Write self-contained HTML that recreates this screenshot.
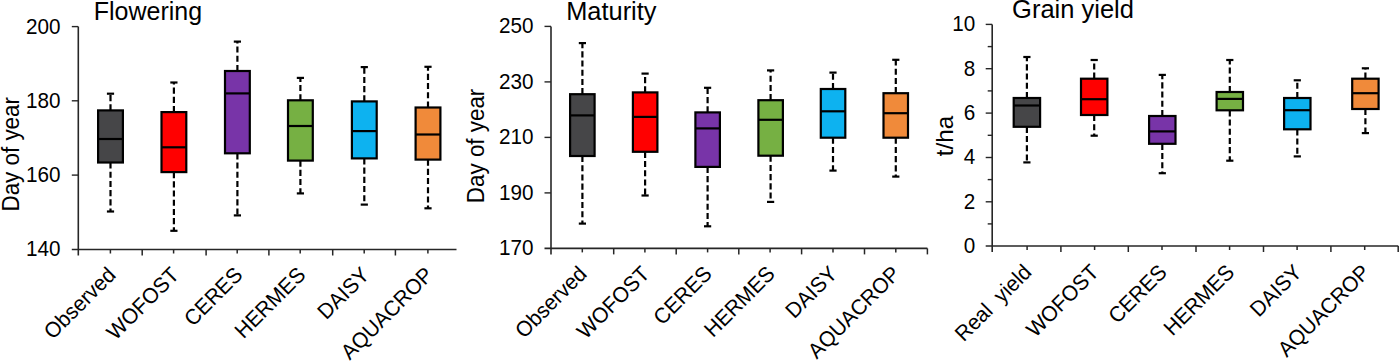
<!DOCTYPE html><html><head><meta charset="utf-8"><style>html,body{margin:0;padding:0;background:#fff;}svg{display:block;}text{font-family:"Liberation Sans", sans-serif;}</style></head><body>
<svg width="1400" height="361" viewBox="0 0 1400 361">
<rect width="1400" height="361" fill="#fff"/>
<text transform="translate(93.7,20.0) scale(1,1.02)" font-size="25.0" fill="#000">Flowering</text>
<text transform="translate(60.4,33.5) scale(1,1.035)" font-size="20.7" text-anchor="end" fill="#000">200</text>
<text transform="translate(60.4,107.7) scale(1,1.035)" font-size="20.7" text-anchor="end" fill="#000">180</text>
<text transform="translate(60.4,182.0) scale(1,1.035)" font-size="20.7" text-anchor="end" fill="#000">160</text>
<text transform="translate(60.4,256.4) scale(1,1.035)" font-size="20.7" text-anchor="end" fill="#000">140</text>
<text transform="translate(18.7,154.3) rotate(-90) scale(1,1.035)" x="0" y="0" font-size="22.4" text-anchor="middle" fill="#000">Day of year</text>
<line x1="78.3" y1="26.6" x2="78.3" y2="255.5" stroke="#262626" stroke-width="1.6"/>
<line x1="71.8" y1="249.5" x2="456.5" y2="249.5" stroke="#262626" stroke-width="1.6"/>
<line x1="71.8" y1="26.6" x2="78.3" y2="26.6" stroke="#262626" stroke-width="1.4"/>
<line x1="71.8" y1="100.8" x2="78.3" y2="100.8" stroke="#262626" stroke-width="1.4"/>
<line x1="71.8" y1="175.1" x2="78.3" y2="175.1" stroke="#262626" stroke-width="1.4"/>
<line x1="142.2" y1="249.5" x2="142.2" y2="255.5" stroke="#262626" stroke-width="1.5"/>
<line x1="206.1" y1="249.5" x2="206.1" y2="255.5" stroke="#262626" stroke-width="1.5"/>
<line x1="268.9" y1="249.5" x2="268.9" y2="255.5" stroke="#262626" stroke-width="1.5"/>
<line x1="332.7" y1="249.5" x2="332.7" y2="255.5" stroke="#262626" stroke-width="1.5"/>
<line x1="395.4" y1="249.5" x2="395.4" y2="255.5" stroke="#262626" stroke-width="1.5"/>
<line x1="110.4" y1="249.5" x2="110.4" y2="253.5" stroke="#262626" stroke-width="1.5"/>
<line x1="173.6" y1="249.5" x2="173.6" y2="253.5" stroke="#262626" stroke-width="1.5"/>
<line x1="237.2" y1="249.5" x2="237.2" y2="253.5" stroke="#262626" stroke-width="1.5"/>
<line x1="300.2" y1="249.5" x2="300.2" y2="253.5" stroke="#262626" stroke-width="1.5"/>
<line x1="364.2" y1="249.5" x2="364.2" y2="253.5" stroke="#262626" stroke-width="1.5"/>
<line x1="427.9" y1="249.5" x2="427.9" y2="253.5" stroke="#262626" stroke-width="1.5"/>
<line x1="110.5" y1="110.4" x2="110.5" y2="93.7" stroke="#000" stroke-width="2.2" stroke-dasharray="6.1,3.1"/>
<line x1="110.5" y1="162.5" x2="110.5" y2="211.5" stroke="#000" stroke-width="2.2" stroke-dasharray="6.1,3.1"/>
<line x1="106.9" y1="93.7" x2="114.1" y2="93.7" stroke="#000" stroke-width="2.2"/>
<line x1="106.9" y1="211.5" x2="114.1" y2="211.5" stroke="#000" stroke-width="2.2"/>
<rect x="98.1" y="110.4" width="24.8" height="52.1" fill="#464648" stroke="#000" stroke-width="2.2"/>
<line x1="98.1" y1="139.0" x2="122.9" y2="139.0" stroke="#000" stroke-width="2.2"/>
<text transform="translate(111.5,270.9) rotate(-45) scale(1,1.035)" x="0" y="0" font-size="20.9" text-anchor="end" fill="#000" dy="0.35em">Observed</text>
<line x1="173.9" y1="112.1" x2="173.9" y2="82.5" stroke="#000" stroke-width="2.2" stroke-dasharray="6.1,3.1"/>
<line x1="173.9" y1="172.1" x2="173.9" y2="230.8" stroke="#000" stroke-width="2.2" stroke-dasharray="6.1,3.1"/>
<line x1="170.3" y1="82.5" x2="177.5" y2="82.5" stroke="#000" stroke-width="2.2"/>
<line x1="170.3" y1="230.8" x2="177.5" y2="230.8" stroke="#000" stroke-width="2.2"/>
<rect x="161.5" y="112.1" width="24.8" height="60.0" fill="#ff0000" stroke="#000" stroke-width="2.2"/>
<line x1="161.5" y1="147.3" x2="186.3" y2="147.3" stroke="#000" stroke-width="2.2"/>
<text transform="translate(174.9,270.9) rotate(-45) scale(1,1.035)" x="0" y="0" font-size="20.9" text-anchor="end" fill="#000" dy="0.35em">WOFOST</text>
<line x1="237.4" y1="71.0" x2="237.4" y2="41.6" stroke="#000" stroke-width="2.2" stroke-dasharray="6.1,3.1"/>
<line x1="237.4" y1="153.3" x2="237.4" y2="215.4" stroke="#000" stroke-width="2.2" stroke-dasharray="6.1,3.1"/>
<line x1="233.8" y1="41.6" x2="241.0" y2="41.6" stroke="#000" stroke-width="2.2"/>
<line x1="233.8" y1="215.4" x2="241.0" y2="215.4" stroke="#000" stroke-width="2.2"/>
<rect x="225.0" y="71.0" width="24.8" height="82.3" fill="#7834a8" stroke="#000" stroke-width="2.2"/>
<line x1="225.0" y1="93.4" x2="249.8" y2="93.4" stroke="#000" stroke-width="2.2"/>
<text transform="translate(238.4,270.9) rotate(-45) scale(1,1.035)" x="0" y="0" font-size="20.9" text-anchor="end" fill="#000" dy="0.35em">CERES</text>
<line x1="300.4" y1="100.3" x2="300.4" y2="77.9" stroke="#000" stroke-width="2.2" stroke-dasharray="6.1,3.1"/>
<line x1="300.4" y1="160.6" x2="300.4" y2="193.4" stroke="#000" stroke-width="2.2" stroke-dasharray="6.1,3.1"/>
<line x1="296.8" y1="77.9" x2="304.0" y2="77.9" stroke="#000" stroke-width="2.2"/>
<line x1="296.8" y1="193.4" x2="304.0" y2="193.4" stroke="#000" stroke-width="2.2"/>
<rect x="288.0" y="100.3" width="24.8" height="60.3" fill="#76b043" stroke="#000" stroke-width="2.2"/>
<line x1="288.0" y1="126.0" x2="312.8" y2="126.0" stroke="#000" stroke-width="2.2"/>
<text transform="translate(301.4,270.9) rotate(-45) scale(1,1.035)" x="0" y="0" font-size="20.9" text-anchor="end" fill="#000" dy="0.35em">HERMES</text>
<line x1="364.3" y1="101.4" x2="364.3" y2="67.1" stroke="#000" stroke-width="2.2" stroke-dasharray="6.1,3.1"/>
<line x1="364.3" y1="158.4" x2="364.3" y2="204.6" stroke="#000" stroke-width="2.2" stroke-dasharray="6.1,3.1"/>
<line x1="360.7" y1="67.1" x2="367.9" y2="67.1" stroke="#000" stroke-width="2.2"/>
<line x1="360.7" y1="204.6" x2="367.9" y2="204.6" stroke="#000" stroke-width="2.2"/>
<rect x="351.9" y="101.4" width="24.8" height="57.0" fill="#0db2f0" stroke="#000" stroke-width="2.2"/>
<line x1="351.9" y1="131.1" x2="376.7" y2="131.1" stroke="#000" stroke-width="2.2"/>
<text transform="translate(365.3,270.9) rotate(-45) scale(1,1.035)" x="0" y="0" font-size="20.9" text-anchor="end" fill="#000" dy="0.35em">DAISY</text>
<line x1="428.0" y1="107.5" x2="428.0" y2="66.8" stroke="#000" stroke-width="2.2" stroke-dasharray="6.1,3.1"/>
<line x1="428.0" y1="159.6" x2="428.0" y2="208.3" stroke="#000" stroke-width="2.2" stroke-dasharray="6.1,3.1"/>
<line x1="424.4" y1="66.8" x2="431.6" y2="66.8" stroke="#000" stroke-width="2.2"/>
<line x1="424.4" y1="208.3" x2="431.6" y2="208.3" stroke="#000" stroke-width="2.2"/>
<rect x="415.6" y="107.5" width="24.8" height="52.1" fill="#f08a3a" stroke="#000" stroke-width="2.2"/>
<line x1="415.6" y1="134.5" x2="440.4" y2="134.5" stroke="#000" stroke-width="2.2"/>
<text transform="translate(429.0,270.9) rotate(-45) scale(1,1.035)" x="0" y="0" font-size="20.9" text-anchor="end" fill="#000" dy="0.35em">AQUACROP</text>
<text transform="translate(566.2,19.9) scale(1,1.02)" font-size="25.4" fill="#000">Maturity</text>
<text transform="translate(533.4,33.3) scale(1,1.035)" font-size="20.7" text-anchor="end" fill="#000">250</text>
<text transform="translate(533.4,88.8) scale(1,1.035)" font-size="20.7" text-anchor="end" fill="#000">230</text>
<text transform="translate(533.4,144.3) scale(1,1.035)" font-size="20.7" text-anchor="end" fill="#000">210</text>
<text transform="translate(533.4,199.8) scale(1,1.035)" font-size="20.7" text-anchor="end" fill="#000">190</text>
<text transform="translate(533.4,255.3) scale(1,1.035)" font-size="20.7" text-anchor="end" fill="#000">170</text>
<text transform="translate(484.2,145.9) rotate(-90) scale(1,1.035)" x="0" y="0" font-size="22.4" text-anchor="middle" fill="#000">Day of year</text>
<line x1="551.0" y1="26.4" x2="551.0" y2="254.4" stroke="#262626" stroke-width="1.6"/>
<line x1="544.5" y1="248.4" x2="927.4" y2="248.4" stroke="#262626" stroke-width="1.6"/>
<line x1="544.5" y1="26.4" x2="551.0" y2="26.4" stroke="#262626" stroke-width="1.4"/>
<line x1="544.5" y1="81.9" x2="551.0" y2="81.9" stroke="#262626" stroke-width="1.4"/>
<line x1="544.5" y1="137.4" x2="551.0" y2="137.4" stroke="#262626" stroke-width="1.4"/>
<line x1="544.5" y1="192.9" x2="551.0" y2="192.9" stroke="#262626" stroke-width="1.4"/>
<line x1="613.7" y1="248.4" x2="613.7" y2="254.4" stroke="#262626" stroke-width="1.5"/>
<line x1="676.2" y1="248.4" x2="676.2" y2="254.4" stroke="#262626" stroke-width="1.5"/>
<line x1="738.8" y1="248.4" x2="738.8" y2="254.4" stroke="#262626" stroke-width="1.5"/>
<line x1="801.6" y1="248.4" x2="801.6" y2="254.4" stroke="#262626" stroke-width="1.5"/>
<line x1="864.5" y1="248.4" x2="864.5" y2="254.4" stroke="#262626" stroke-width="1.5"/>
<line x1="927.4" y1="248.4" x2="927.4" y2="254.4" stroke="#262626" stroke-width="1.5"/>
<line x1="582.3" y1="248.4" x2="582.3" y2="252.4" stroke="#262626" stroke-width="1.5"/>
<line x1="644.9" y1="248.4" x2="644.9" y2="252.4" stroke="#262626" stroke-width="1.5"/>
<line x1="707.6" y1="248.4" x2="707.6" y2="252.4" stroke="#262626" stroke-width="1.5"/>
<line x1="770.1" y1="248.4" x2="770.1" y2="252.4" stroke="#262626" stroke-width="1.5"/>
<line x1="833.0" y1="248.4" x2="833.0" y2="252.4" stroke="#262626" stroke-width="1.5"/>
<line x1="895.8" y1="248.4" x2="895.8" y2="252.4" stroke="#262626" stroke-width="1.5"/>
<line x1="582.4" y1="94.2" x2="582.4" y2="43.1" stroke="#000" stroke-width="2.2" stroke-dasharray="6.1,3.1"/>
<line x1="582.4" y1="156.0" x2="582.4" y2="223.6" stroke="#000" stroke-width="2.2" stroke-dasharray="6.1,3.1"/>
<line x1="578.8" y1="43.1" x2="586.0" y2="43.1" stroke="#000" stroke-width="2.2"/>
<line x1="578.8" y1="223.6" x2="586.0" y2="223.6" stroke="#000" stroke-width="2.2"/>
<rect x="570.1" y="94.2" width="24.5" height="61.8" fill="#464648" stroke="#000" stroke-width="2.2"/>
<line x1="570.1" y1="115.4" x2="594.6" y2="115.4" stroke="#000" stroke-width="2.2"/>
<text transform="translate(582.6,269.8) rotate(-45) scale(1,1.035)" x="0" y="0" font-size="20.9" text-anchor="end" fill="#000" dy="0.35em">Observed</text>
<line x1="645.1" y1="92.4" x2="645.1" y2="73.6" stroke="#000" stroke-width="2.2" stroke-dasharray="6.1,3.1"/>
<line x1="645.1" y1="151.8" x2="645.1" y2="195.5" stroke="#000" stroke-width="2.2" stroke-dasharray="6.1,3.1"/>
<line x1="641.5" y1="73.6" x2="648.7" y2="73.6" stroke="#000" stroke-width="2.2"/>
<line x1="641.5" y1="195.5" x2="648.7" y2="195.5" stroke="#000" stroke-width="2.2"/>
<rect x="632.9" y="92.4" width="24.5" height="59.4" fill="#ff0000" stroke="#000" stroke-width="2.2"/>
<line x1="632.9" y1="116.9" x2="657.4" y2="116.9" stroke="#000" stroke-width="2.2"/>
<text transform="translate(645.3,269.8) rotate(-45) scale(1,1.035)" x="0" y="0" font-size="20.9" text-anchor="end" fill="#000" dy="0.35em">WOFOST</text>
<line x1="707.6" y1="112.4" x2="707.6" y2="87.8" stroke="#000" stroke-width="2.2" stroke-dasharray="6.1,3.1"/>
<line x1="707.6" y1="166.9" x2="707.6" y2="226.3" stroke="#000" stroke-width="2.2" stroke-dasharray="6.1,3.1"/>
<line x1="704.0" y1="87.8" x2="711.2" y2="87.8" stroke="#000" stroke-width="2.2"/>
<line x1="704.0" y1="226.3" x2="711.2" y2="226.3" stroke="#000" stroke-width="2.2"/>
<rect x="695.4" y="112.4" width="24.5" height="54.5" fill="#7834a8" stroke="#000" stroke-width="2.2"/>
<line x1="695.4" y1="128.4" x2="719.9" y2="128.4" stroke="#000" stroke-width="2.2"/>
<text transform="translate(707.8,269.8) rotate(-45) scale(1,1.035)" x="0" y="0" font-size="20.9" text-anchor="end" fill="#000" dy="0.35em">CERES</text>
<line x1="770.6" y1="100.2" x2="770.6" y2="70.4" stroke="#000" stroke-width="2.2" stroke-dasharray="6.1,3.1"/>
<line x1="770.6" y1="155.7" x2="770.6" y2="201.9" stroke="#000" stroke-width="2.2" stroke-dasharray="6.1,3.1"/>
<line x1="767.0" y1="70.4" x2="774.2" y2="70.4" stroke="#000" stroke-width="2.2"/>
<line x1="767.0" y1="201.9" x2="774.2" y2="201.9" stroke="#000" stroke-width="2.2"/>
<rect x="758.4" y="100.2" width="24.5" height="55.5" fill="#76b043" stroke="#000" stroke-width="2.2"/>
<line x1="758.4" y1="119.8" x2="782.9" y2="119.8" stroke="#000" stroke-width="2.2"/>
<text transform="translate(770.8,269.8) rotate(-45) scale(1,1.035)" x="0" y="0" font-size="20.9" text-anchor="end" fill="#000" dy="0.35em">HERMES</text>
<line x1="833.0" y1="89.0" x2="833.0" y2="72.6" stroke="#000" stroke-width="2.2" stroke-dasharray="6.1,3.1"/>
<line x1="833.0" y1="137.7" x2="833.0" y2="170.6" stroke="#000" stroke-width="2.2" stroke-dasharray="6.1,3.1"/>
<line x1="829.4" y1="72.6" x2="836.6" y2="72.6" stroke="#000" stroke-width="2.2"/>
<line x1="829.4" y1="170.6" x2="836.6" y2="170.6" stroke="#000" stroke-width="2.2"/>
<rect x="820.8" y="89.0" width="24.5" height="48.7" fill="#0db2f0" stroke="#000" stroke-width="2.2"/>
<line x1="820.8" y1="111.3" x2="845.2" y2="111.3" stroke="#000" stroke-width="2.2"/>
<text transform="translate(833.2,269.8) rotate(-45) scale(1,1.035)" x="0" y="0" font-size="20.9" text-anchor="end" fill="#000" dy="0.35em">DAISY</text>
<line x1="895.8" y1="93.2" x2="895.8" y2="59.8" stroke="#000" stroke-width="2.2" stroke-dasharray="6.1,3.1"/>
<line x1="895.8" y1="137.7" x2="895.8" y2="176.6" stroke="#000" stroke-width="2.2" stroke-dasharray="6.1,3.1"/>
<line x1="892.2" y1="59.8" x2="899.4" y2="59.8" stroke="#000" stroke-width="2.2"/>
<line x1="892.2" y1="176.6" x2="899.4" y2="176.6" stroke="#000" stroke-width="2.2"/>
<rect x="883.5" y="93.2" width="24.5" height="44.5" fill="#f08a3a" stroke="#000" stroke-width="2.2"/>
<line x1="883.5" y1="113.2" x2="908.0" y2="113.2" stroke="#000" stroke-width="2.2"/>
<text transform="translate(896.0,269.8) rotate(-45) scale(1,1.035)" x="0" y="0" font-size="20.9" text-anchor="end" fill="#000" dy="0.35em">AQUACROP</text>
<text transform="translate(1012.1,18.2) scale(1,1.02)" font-size="25.5" fill="#000">Grain yield</text>
<text transform="translate(975.2,31.3) scale(1,1.035)" font-size="20.7" text-anchor="end" fill="#000">10</text>
<text transform="translate(975.2,75.6) scale(1,1.035)" font-size="20.7" text-anchor="end" fill="#000">8</text>
<text transform="translate(975.2,120.0) scale(1,1.035)" font-size="20.7" text-anchor="end" fill="#000">6</text>
<text transform="translate(975.2,164.4) scale(1,1.035)" font-size="20.7" text-anchor="end" fill="#000">4</text>
<text transform="translate(975.2,208.7) scale(1,1.035)" font-size="20.7" text-anchor="end" fill="#000">2</text>
<text transform="translate(975.2,252.9) scale(1,1.035)" font-size="20.7" text-anchor="end" fill="#000">0</text>
<text transform="translate(952.6,136.1) rotate(-90) scale(1.085,1.035)" x="0" y="0" font-size="22.4" text-anchor="middle" fill="#000">t/ha</text>
<line x1="992.2" y1="24.4" x2="992.2" y2="252.0" stroke="#262626" stroke-width="1.6"/>
<line x1="985.7" y1="246.0" x2="1398.3" y2="246.0" stroke="#262626" stroke-width="1.6"/>
<line x1="985.7" y1="24.4" x2="992.2" y2="24.4" stroke="#262626" stroke-width="1.4"/>
<line x1="985.7" y1="68.7" x2="992.2" y2="68.7" stroke="#262626" stroke-width="1.4"/>
<line x1="985.7" y1="113.1" x2="992.2" y2="113.1" stroke="#262626" stroke-width="1.4"/>
<line x1="985.7" y1="157.5" x2="992.2" y2="157.5" stroke="#262626" stroke-width="1.4"/>
<line x1="985.7" y1="201.8" x2="992.2" y2="201.8" stroke="#262626" stroke-width="1.4"/>
<line x1="987.7" y1="46.6" x2="992.2" y2="46.6" stroke="#262626" stroke-width="1.4"/>
<line x1="987.7" y1="90.9" x2="992.2" y2="90.9" stroke="#262626" stroke-width="1.4"/>
<line x1="987.7" y1="135.3" x2="992.2" y2="135.3" stroke="#262626" stroke-width="1.4"/>
<line x1="987.7" y1="179.6" x2="992.2" y2="179.6" stroke="#262626" stroke-width="1.4"/>
<line x1="987.7" y1="223.9" x2="992.2" y2="223.9" stroke="#262626" stroke-width="1.4"/>
<line x1="1060.9" y1="246.0" x2="1060.9" y2="252.0" stroke="#262626" stroke-width="1.5"/>
<line x1="1128.3" y1="246.0" x2="1128.3" y2="252.0" stroke="#262626" stroke-width="1.5"/>
<line x1="1196.0" y1="246.0" x2="1196.0" y2="252.0" stroke="#262626" stroke-width="1.5"/>
<line x1="1263.5" y1="246.0" x2="1263.5" y2="252.0" stroke="#262626" stroke-width="1.5"/>
<line x1="1330.9" y1="246.0" x2="1330.9" y2="252.0" stroke="#262626" stroke-width="1.5"/>
<line x1="1398.2" y1="246.0" x2="1398.2" y2="252.0" stroke="#262626" stroke-width="1.5"/>
<line x1="1027.1" y1="246.0" x2="1027.1" y2="250.0" stroke="#262626" stroke-width="1.5"/>
<line x1="1094.6" y1="246.0" x2="1094.6" y2="250.0" stroke="#262626" stroke-width="1.5"/>
<line x1="1162.0" y1="246.0" x2="1162.0" y2="250.0" stroke="#262626" stroke-width="1.5"/>
<line x1="1229.6" y1="246.0" x2="1229.6" y2="250.0" stroke="#262626" stroke-width="1.5"/>
<line x1="1297.1" y1="246.0" x2="1297.1" y2="250.0" stroke="#262626" stroke-width="1.5"/>
<line x1="1364.7" y1="246.0" x2="1364.7" y2="250.0" stroke="#262626" stroke-width="1.5"/>
<line x1="1026.9" y1="98.0" x2="1026.9" y2="57.0" stroke="#000" stroke-width="2.2" stroke-dasharray="6.1,3.1"/>
<line x1="1026.9" y1="126.8" x2="1026.9" y2="162.4" stroke="#000" stroke-width="2.2" stroke-dasharray="6.1,3.1"/>
<line x1="1023.3" y1="57.0" x2="1030.5" y2="57.0" stroke="#000" stroke-width="2.2"/>
<line x1="1023.3" y1="162.4" x2="1030.5" y2="162.4" stroke="#000" stroke-width="2.2"/>
<rect x="1013.7" y="98.0" width="26.4" height="28.8" fill="#464648" stroke="#000" stroke-width="2.2"/>
<line x1="1013.7" y1="105.5" x2="1040.1" y2="105.5" stroke="#000" stroke-width="2.2"/>
<text transform="translate(1027.3,268.2) rotate(-45) scale(1,1.035)" x="0" y="0" font-size="20.9" text-anchor="end" fill="#000" dy="0.35em">Real  yield</text>
<line x1="1094.2" y1="78.7" x2="1094.2" y2="60.0" stroke="#000" stroke-width="2.2" stroke-dasharray="6.1,3.1"/>
<line x1="1094.2" y1="115.0" x2="1094.2" y2="135.7" stroke="#000" stroke-width="2.2" stroke-dasharray="6.1,3.1"/>
<line x1="1090.6" y1="60.0" x2="1097.8" y2="60.0" stroke="#000" stroke-width="2.2"/>
<line x1="1090.6" y1="135.7" x2="1097.8" y2="135.7" stroke="#000" stroke-width="2.2"/>
<rect x="1081.0" y="78.7" width="26.4" height="36.3" fill="#ff0000" stroke="#000" stroke-width="2.2"/>
<line x1="1081.0" y1="99.2" x2="1107.4" y2="99.2" stroke="#000" stroke-width="2.2"/>
<text transform="translate(1094.6,268.2) rotate(-45) scale(1,1.035)" x="0" y="0" font-size="20.9" text-anchor="end" fill="#000" dy="0.35em">WOFOST</text>
<line x1="1162.3" y1="116.0" x2="1162.3" y2="74.9" stroke="#000" stroke-width="2.2" stroke-dasharray="6.1,3.1"/>
<line x1="1162.3" y1="143.8" x2="1162.3" y2="173.2" stroke="#000" stroke-width="2.2" stroke-dasharray="6.1,3.1"/>
<line x1="1158.7" y1="74.9" x2="1165.9" y2="74.9" stroke="#000" stroke-width="2.2"/>
<line x1="1158.7" y1="173.2" x2="1165.9" y2="173.2" stroke="#000" stroke-width="2.2"/>
<rect x="1149.1" y="116.0" width="26.4" height="27.8" fill="#7834a8" stroke="#000" stroke-width="2.2"/>
<line x1="1149.1" y1="131.4" x2="1175.5" y2="131.4" stroke="#000" stroke-width="2.2"/>
<text transform="translate(1162.7,268.2) rotate(-45) scale(1,1.035)" x="0" y="0" font-size="20.9" text-anchor="end" fill="#000" dy="0.35em">CERES</text>
<line x1="1229.8" y1="92.0" x2="1229.8" y2="60.0" stroke="#000" stroke-width="2.2" stroke-dasharray="6.1,3.1"/>
<line x1="1229.8" y1="110.3" x2="1229.8" y2="160.7" stroke="#000" stroke-width="2.2" stroke-dasharray="6.1,3.1"/>
<line x1="1226.2" y1="60.0" x2="1233.4" y2="60.0" stroke="#000" stroke-width="2.2"/>
<line x1="1226.2" y1="160.7" x2="1233.4" y2="160.7" stroke="#000" stroke-width="2.2"/>
<rect x="1216.6" y="92.0" width="26.4" height="18.3" fill="#76b043" stroke="#000" stroke-width="2.2"/>
<line x1="1216.6" y1="98.9" x2="1243.0" y2="98.9" stroke="#000" stroke-width="2.2"/>
<text transform="translate(1230.2,268.2) rotate(-45) scale(1,1.035)" x="0" y="0" font-size="20.9" text-anchor="end" fill="#000" dy="0.35em">HERMES</text>
<line x1="1297.3" y1="98.0" x2="1297.3" y2="80.3" stroke="#000" stroke-width="2.2" stroke-dasharray="6.1,3.1"/>
<line x1="1297.3" y1="129.3" x2="1297.3" y2="156.4" stroke="#000" stroke-width="2.2" stroke-dasharray="6.1,3.1"/>
<line x1="1293.7" y1="80.3" x2="1300.9" y2="80.3" stroke="#000" stroke-width="2.2"/>
<line x1="1293.7" y1="156.4" x2="1300.9" y2="156.4" stroke="#000" stroke-width="2.2"/>
<rect x="1284.1" y="98.0" width="26.4" height="31.3" fill="#0db2f0" stroke="#000" stroke-width="2.2"/>
<line x1="1284.1" y1="110.2" x2="1310.5" y2="110.2" stroke="#000" stroke-width="2.2"/>
<text transform="translate(1297.7,268.2) rotate(-45) scale(1,1.035)" x="0" y="0" font-size="20.9" text-anchor="end" fill="#000" dy="0.35em">DAISY</text>
<line x1="1365.4" y1="78.7" x2="1365.4" y2="68.3" stroke="#000" stroke-width="2.2" stroke-dasharray="6.1,3.1"/>
<line x1="1365.4" y1="109.0" x2="1365.4" y2="133.1" stroke="#000" stroke-width="2.2" stroke-dasharray="6.1,3.1"/>
<line x1="1361.8" y1="68.3" x2="1369.0" y2="68.3" stroke="#000" stroke-width="2.2"/>
<line x1="1361.8" y1="133.1" x2="1369.0" y2="133.1" stroke="#000" stroke-width="2.2"/>
<rect x="1352.2" y="78.7" width="26.4" height="30.3" fill="#f08a3a" stroke="#000" stroke-width="2.2"/>
<line x1="1352.2" y1="93.2" x2="1378.6" y2="93.2" stroke="#000" stroke-width="2.2"/>
<text transform="translate(1365.8,268.2) rotate(-45) scale(1,1.035)" x="0" y="0" font-size="20.9" text-anchor="end" fill="#000" dy="0.35em">AQUACROP</text>
</svg></body></html>
